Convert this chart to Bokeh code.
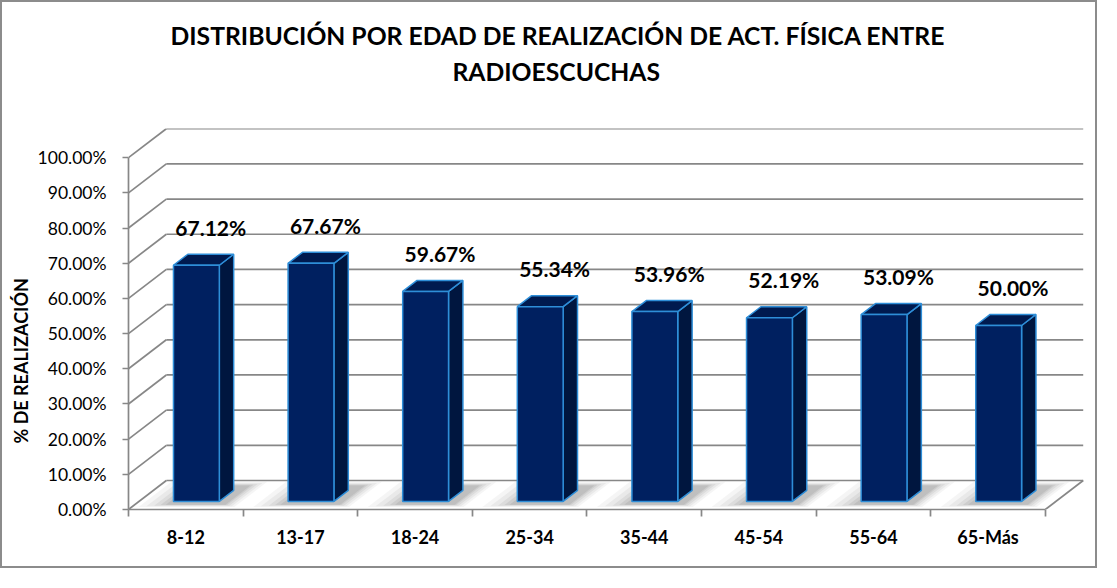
from bokeh.plotting import figure
from bokeh.models import Range1d, FixedTicker, PrintfTickFormatter, Title
from bokeh.core.properties import value
from bokeh.embed import file_html
from bokeh.resources import INLINE

# ---- data ----
categories = ["8-12", "13-17", "18-24", "25-34", "35-44", "45-54", "55-64", "65-Más"]
values = [67.12, 67.67, 59.67, 55.34, 53.96, 52.19, 53.09, 50.00]
value_labels = ["67.12%", "67.67%", "59.67%", "55.34%", "53.96%", "52.19%", "53.09%", "50.00%"]
y_ticks = [0, 10, 20, 30, 40, 50, 60, 70, 80, 90, 100]
title_lines = ["DISTRIBUCIÓN POR EDAD DE REALIZACIÓN DE ACT. FÍSICA ENTRE", "RADIOESCUCHAS"]
y_title = "% DE REALIZACIÓN"

# ---- style / geometry ----
FONT = "Lato"
GRID = "#878787"
FRONT = "#002060"
TOP = "#001a4f"
SIDE = "#00163f"
EDGE = "#2e8ed8"
DX, DY = 0.33, 8.24          # depth of the 3-D box in data units
D0, D1 = 0.28, 0.66          # bar depth span (fraction of box depth)
BW, BOFF = 0.40, 0.30        # bar width and offset within category
n = len(categories)
Y_MAX = 100

p = figure(width=1097, height=568,
           x_range=Range1d(0, n + 0.35), y_range=Range1d(0, Y_MAX + 8.3),
           output_backend="svg", toolbar_location=None,
           min_border_left=126, min_border_right=14,
           min_border_top=126, min_border_bottom=61)
p.outline_line_color = None
p.xgrid.visible = False
p.ygrid.visible = False
p.background_fill_color = "white"
p.border_fill_color = "white"
p.styles = {"border": "2px solid #8c8c8c"}

# back-wall gridlines and left-wall diagonals
p.segment(x0=[DX] * len(y_ticks), y0=[t + DY for t in y_ticks],
          x1=[n + DX] * len(y_ticks), y1=[t + DY for t in y_ticks],
          line_color=GRID, line_width=1.7)
p.segment(x0=[0] * len(y_ticks), y0=y_ticks,
          x1=[DX] * len(y_ticks), y1=[t + DY for t in y_ticks],
          line_color=GRID, line_width=1.7)
p.segment(x0=[n], y0=[0], x1=[n + DX], y1=[DY], line_color=GRID, line_width=1.7)

# bar geometry
fl = [i + BOFF + D0 * DX for i in range(n)]
fr = [x + BW for x in fl]
fb = [D0 * DY] * n
ft = [v + D0 * DY for v in values]
ddx, ddy = (D1 - D0) * DX, (D1 - D0) * DY

# soft floor shadows (layered)
for g, alpha in [(0.24, 0.06), (0.18, 0.075), (0.12, 0.09), (0.07, 0.11), (0.03, 0.12)]:
    xs, ys = [], []
    for l, r in zip(fl, fr):
        da = max(0.02, D0 - 0.10 - g * 0.4)
        db = min(0.99, D1 + 0.15 + g * 0.6)
        xl = l - D0 * DX - g
        xr = r - D0 * DX + ddx * 0.6 + g * 0.5
        xs.append([xl + da * DX, xr + da * DX, xr + db * DX, xl + db * DX])
        ys.append([da * DY, da * DY, db * DY, db * DY])
    p.patches(xs, ys, fill_color="#5a5a5a", fill_alpha=alpha, line_color=None)

side_xs = [[r, r + ddx, r + ddx, r] for r in fr]
side_ys = [[b, b + ddy, t + ddy, t] for b, t in zip(fb, ft)]
top_xs = [[l, r, r + ddx, l + ddx] for l, r in zip(fl, fr)]
top_ys = [[t, t, t + ddy, t + ddy] for t in ft]

p.patches(side_xs, side_ys, fill_color=SIDE, line_color=EDGE, line_width=1.5)
p.patches(top_xs, top_ys, fill_color=TOP, line_color=EDGE, line_width=1.5)
p.quad(left=fl, right=fr, bottom=fb, top=ft, fill_color=FRONT, line_color=EDGE, line_width=1.5)

# value labels
lx = [i + 0.5 + D1 * DX for i in range(n)]
ly = [v + D1 * DY for v in values]
p.text(x=lx, y=ly, text=value_labels, text_font=value(FONT), text_font_style="bold",
       text_font_size="21px", text_color="black", text_align="center",
       text_baseline="middle", y_offset=-27)

# axes
ya = p.yaxis[0]
ya.ticker = FixedTicker(ticks=y_ticks)
ya.formatter = PrintfTickFormatter(format="%.2f%%")
ya.bounds = (0, Y_MAX)
ya.axis_line_color = GRID
ya.axis_line_width = 1.7
ya.major_tick_line_color = GRID
ya.major_tick_line_width = 1.7
ya.major_tick_out = 6
ya.major_tick_in = 0
ya.minor_tick_line_color = None
ya.major_label_standoff = 16
ya.major_label_text_font = FONT
ya.major_label_text_font_size = "17.5px"
ya.major_label_text_color = "black"

xa = p.xaxis[0]
centers = [i + 0.5 for i in range(n)]
xa.ticker = FixedTicker(ticks=centers, minor_ticks=list(range(n + 1)))
xa.major_label_overrides = {c: lab for c, lab in zip(centers, categories)}
xa.bounds = (0, n)
xa.axis_line_color = GRID
xa.axis_line_width = 1.7
xa.major_tick_line_color = None
xa.major_tick_out = 0
xa.major_tick_in = 0
xa.minor_tick_line_color = GRID
xa.minor_tick_line_width = 1.7
xa.minor_tick_out = 7
xa.minor_tick_in = 0
xa.major_label_standoff = 9
xa.major_label_text_font = FONT
xa.major_label_text_font_style = "bold"
xa.major_label_text_font_size = "18px"
xa.major_label_text_color = "black"

# y-axis title as a left-side title (placed outside the tick labels)
p.add_layout(Title(text=y_title, align="left", offset=66, standoff=6,
                   text_font=FONT, text_font_style="bold", text_font_size="18px",
                   text_color="black"), "left")

# chart title (two lines, nearest-to-plot first)
p.add_layout(Title(text=title_lines[1], align="left", offset=324, standoff=86,
                   text_font=FONT, text_font_style="bold", text_font_size="24.7px",
                   text_color="black"), "above")
p.add_layout(Title(text=title_lines[0], align="left", offset=42, standoff=-77,
                   text_font=FONT, text_font_style="bold", text_font_size="24.7px",
                   text_color="black"), "above")

open("out.html", "w").write(file_html(p, INLINE))
